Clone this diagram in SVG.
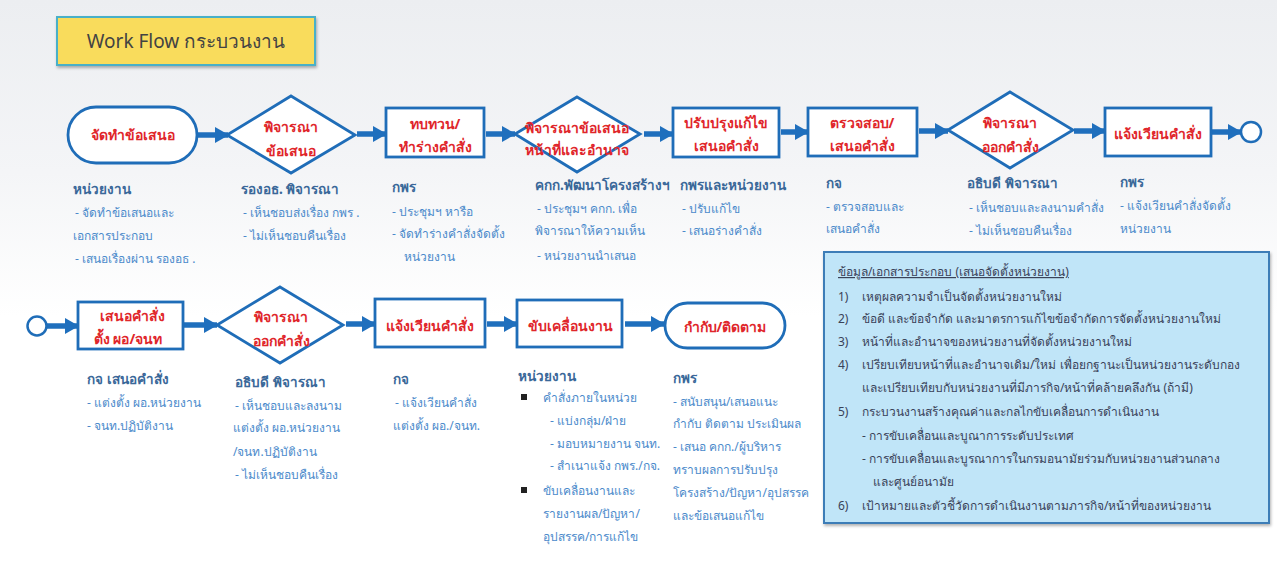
<svg xmlns="http://www.w3.org/2000/svg" width="1277" height="575" viewBox="0 0 1277 575">
<defs>
<linearGradient id="bg" x1="0" y1="0" x2="0" y2="1">
<stop offset="0" stop-color="#eceef1"/>
<stop offset="0.3" stop-color="#f4f5f7"/>
<stop offset="0.55" stop-color="#ffffff"/>
</linearGradient>
<filter id="sh" x="-10%" y="-10%" width="120%" height="130%">
<feDropShadow dx="1" dy="2" stdDeviation="1.5" flood-color="#000" flood-opacity="0.3"/>
</filter>
<marker id="ah" markerUnits="userSpaceOnUse" markerWidth="14" markerHeight="16" refX="13" refY="8" orient="auto">
<path d="M0,0 L14,8 L0,16 Z" fill="#1f6fbd"/>
</marker>
</defs>
<style>
.nd{fill:#fff;stroke:#1f6db8;stroke-width:2.8}
.nt{font-family:"Noto Sans","DejaVu Sans",sans-serif;font-size:14px;font-weight:bold;fill:#e0262b;text-anchor:middle}
.hd{font-family:"Noto Sans","DejaVu Sans",sans-serif;font-size:13.5px;font-weight:bold;fill:#3a6899}
.sb{font-family:"Noto Sans","DejaVu Sans",sans-serif;font-size:12px;fill:#4b8acb}
.ib{font-family:"Noto Sans","DejaVu Sans",sans-serif;font-size:12px;fill:#3a4258}
.cn line{stroke:#1f6fbd;stroke-width:5.5;marker-end:url(#ah)}
</style>
<rect x="0" y="0" width="1277" height="575" fill="url(#bg)"/>

<g id="title">
<rect x="57" y="17" width="258" height="48" fill="#f9dc5c" stroke="#4ab0c8" stroke-width="2" filter="url(#sh)"/>
<text x="186" y="48" text-anchor="middle" font-family="Noto Sans,DejaVu Sans,sans-serif" font-size="19" fill="#434343">Work Flow กระบวนงาน</text>
</g>

<g id="connectors" class="cn">
<line x1="198" y1="135" x2="228" y2="135"/>
<line x1="357" y1="134" x2="386" y2="134"/>
<line x1="486" y1="134" x2="515" y2="134"/>
<line x1="644" y1="134" x2="673" y2="134"/>
<line x1="781" y1="132" x2="808" y2="132"/>
<line x1="919" y1="131" x2="948" y2="131"/>
<line x1="1074" y1="131" x2="1105" y2="131"/>
<line x1="1212" y1="132" x2="1241" y2="132"/>
<line x1="47" y1="326" x2="78" y2="326"/>
<line x1="184" y1="325" x2="217" y2="325"/>
<line x1="346" y1="324" x2="375" y2="324"/>
<line x1="487" y1="324" x2="517" y2="324"/>
<line x1="625" y1="324" x2="664" y2="324"/>
</g>

<g id="n1"><rect class="nd" x="68" y="107" width="129" height="56" rx="28"/><text class="nt" x="133" y="140">จัดทำข้อเสนอ</text></g>
<g id="n2"><polygon class="nd" points="291,96 355,135 291,173 227,135"/><text class="nt" x="291" y="132">พิจารณา</text><text class="nt" x="291" y="156">ข้อเสนอ</text></g>
<g id="n3"><rect class="nd" x="386" y="108" width="98" height="49"/><text class="nt" x="435" y="129">ทบทวน/</text><text class="nt" x="435" y="152">ทำร่างคำสั่ง</text></g>
<g id="n4"><polygon class="nd" points="577,97 640,134 577,172 515,134"/><text class="nt" x="577" y="133">พิจารณาข้อเสนอ</text><text class="nt" x="577" y="155">หน้าที่และอำนาจ</text></g>
<g id="n5"><rect class="nd" x="673" y="108" width="106" height="49"/><text class="nt" x="726" y="128">ปรับปรุงแก้ไข</text><text class="nt" x="726" y="151">เสนอคำสั่ง</text></g>
<g id="n6"><rect class="nd" x="808" y="108" width="109" height="48"/><text class="nt" x="862" y="128">ตรวจสอบ/</text><text class="nt" x="862" y="151">เสนอคำสั่ง</text></g>
<g id="n7"><polygon class="nd" points="1010,92 1073,130 1010,168 948,130"/><text class="nt" x="1010" y="128">พิจารณา</text><text class="nt" x="1010" y="152">ออกคำสั่ง</text></g>
<g id="n8"><rect class="nd" x="1105" y="108" width="106" height="48"/><text class="nt" x="1158" y="139">แจ้งเวียนคำสั่ง</text></g>
<g id="end1"><circle cx="1251" cy="132" r="10" fill="#fff" stroke="#1f6db8" stroke-width="2.5"/></g>

<g id="start2"><circle cx="37" cy="326" r="9.5" fill="#fff" stroke="#1f6db8" stroke-width="2.5"/></g>
<g id="m1"><rect class="nd" x="78" y="302" width="105" height="47"/><text class="nt" x="132" y="321">เสนอคำสั่ง</text><text class="nt" x="128" y="344">ตั้ง ผอ/จนท</text></g>
<g id="m2"><polygon class="nd" points="280,287 343,325 280,363 217,325"/><text class="nt" x="281" y="322">พิจารณา</text><text class="nt" x="281" y="346">ออกคำสั่ง</text></g>
<g id="m3"><rect class="nd" x="375" y="299" width="110" height="48"/><text class="nt" x="430" y="331">แจ้งเวียนคำสั่ง</text></g>
<g id="m4"><rect class="nd" x="517" y="300" width="105" height="47"/><text class="nt" x="570" y="331">ขับเคลื่อนงาน</text></g>
<g id="m5"><rect class="nd" x="665" y="303" width="120" height="45" rx="22.5"/><text class="nt" x="725" y="332">กำกับ/ติดตาม</text></g>

<g id="l1"><text class="hd" x="73" y="194">หน่วยงาน</text><text class="sb" x="75" y="217">- จัดทำข้อเสนอและ</text><text class="sb" x="73" y="240">เอกสารประกอบ</text><text class="sb" x="75" y="263">- เสนอเรื่องผ่าน รองอธ .</text></g>
<g id="l2"><text class="hd" x="241" y="194">รองอธ. พิจารณา</text><text class="sb" x="243" y="217">- เห็นชอบส่งเรื่อง กพร .</text><text class="sb" x="243" y="240">- ไม่เห็นชอบคืนเรื่อง</text></g>
<g id="l3"><text class="hd" x="392" y="192">กพร</text><text class="sb" x="392" y="216">- ประชุมฯ หารือ</text><text class="sb" x="392" y="238">- จัดทำร่างคำสั่งจัดตั้ง</text><text class="sb" x="404" y="261">หน่วยงาน</text></g>
<g id="l4"><text class="hd" x="535" y="190">คกก.พัฒนาโครงสร้างฯ</text><text class="sb" x="537" y="213">- ประชุมฯ คกก. เพื่อ</text><text class="sb" x="535" y="235">พิจารณาให้ความเห็น</text><text class="sb" x="537" y="260">- หน่วยงานนำเสนอ</text></g>
<g id="l5"><text class="hd" x="680" y="190">กพรและหน่วยงาน</text><text class="sb" x="682" y="213">- ปรับแก้ไข</text><text class="sb" x="682" y="235">- เสนอร่างคำสั่ง</text></g>
<g id="l6"><text class="hd" x="826" y="188">กจ</text><text class="sb" x="826" y="211">- ตรวจสอบและ</text><text class="sb" x="826" y="233">เสนอคำสั่ง</text></g>
<g id="l7"><text class="hd" x="967" y="188">อธิบดี พิจารณา</text><text class="sb" x="969" y="212">- เห็นชอบและลงนามคำสั่ง</text><text class="sb" x="969" y="235">- ไม่เห็นชอบคืนเรื่อง</text></g>
<g id="l8"><text class="hd" x="1120" y="187">กพร</text><text class="sb" x="1120" y="210">- แจ้งเวียนคำสั่งจัดตั้ง</text><text class="sb" x="1120" y="233">หน่วยงาน</text></g>

<g id="b1"><text class="hd" x="87" y="384">กจ เสนอคำสั่ง</text><text class="sb" x="87" y="407">- แต่งตั้ง ผอ.หน่วยงาน</text><text class="sb" x="87" y="430">- จนท.ปฏิบัติงาน</text></g>
<g id="b2"><text class="hd" x="235" y="387">อธิบดี พิจารณา</text><text class="sb" x="235" y="410">- เห็นชอบและลงนาม</text><text class="sb" x="233" y="432">แต่งตั้ง ผอ.หน่วยงาน</text><text class="sb" x="233" y="456">/จนท.ปฏิบัติงาน</text><text class="sb" x="235" y="479">- ไม่เห็นชอบคืนเรื่อง</text></g>
<g id="b3"><text class="hd" x="393" y="384">กจ</text><text class="sb" x="395" y="407">- แจ้งเวียนคำสั่ง</text><text class="sb" x="393" y="430">แต่งตั้ง ผอ./จนท.</text></g>
<g id="b4"><text class="hd" x="518" y="381">หน่วยงาน</text>
<rect x="521" y="394" width="6" height="6" fill="#222"/><text class="sb" x="543" y="402">คำสั่งภายในหน่วย</text>
<text class="sb" x="550" y="425">- แบ่งกลุ่ม/ฝ่าย</text><text class="sb" x="550" y="448">- มอบหมายงาน จนท.</text><text class="sb" x="550" y="470">- สำเนาแจ้ง กพร./กจ.</text>
<rect x="521" y="487" width="6" height="6" fill="#222"/><text class="sb" x="543" y="495">ขับเคลื่อนงานและ</text><text class="sb" x="543" y="518">รายงานผล/ปัญหา/</text><text class="sb" x="543" y="541">อุปสรรค/การแก้ไข</text></g>
<g id="b5"><text class="hd" x="673" y="383">กพร</text><text class="sb" x="673" y="406">- สนับสนุน/เสนอแนะ</text><text class="sb" x="673" y="428">กำกับ ติดตาม ประเมินผล</text><text class="sb" x="673" y="451">- เสนอ คกก./ผู้บริหาร</text><text class="sb" x="673" y="474">ทราบผลการปรับปรุง</text><text class="sb" x="673" y="497">โครงสร้าง/ปัญหา/อุปสรรค</text><text class="sb" x="673" y="520">และข้อเสนอแก้ไข</text></g>

<g id="info">
<rect x="824" y="252" width="445" height="271" fill="#c0e5f8" stroke="#3d7db7" stroke-width="2" filter="url(#sh)"/>
<text class="ib" x="838" y="276" text-decoration="underline">ข้อมูล/เอกสารประกอบ (เสนอจัดตั้งหน่วยงาน)</text>
<text class="ib" x="838" y="301">1)</text><text class="ib" x="862" y="301">เหตุผลความจำเป็นจัดตั้งหน่วยงานใหม่</text>
<text class="ib" x="838" y="323">2)</text><text class="ib" x="862" y="323">ข้อดี และข้อจำกัด และมาตรการแก้ไขข้อจำกัดการจัดตั้งหน่วยงานใหม่</text>
<text class="ib" x="838" y="346">3)</text><text class="ib" x="862" y="346">หน้าที่และอำนาจของหน่วยงานที่จัดตั้งหน่วยงานใหม่</text>
<text class="ib" x="838" y="369">4)</text><text class="ib" x="862" y="369">เปรียบเทียบหน้าที่และอำนาจเดิม/ใหม่ เพื่อยกฐานะเป็นหน่วยงานระดับกอง</text>
<text class="ib" x="862" y="392">และเปรียบเทียบกับหน่วยงานที่มีภารกิจ/หน้าที่คล้ายคลึงกัน (ถ้ามี)</text>
<text class="ib" x="838" y="416">5)</text><text class="ib" x="862" y="416">กระบวนงานสร้างคุณค่าและกลไกขับเคลื่อนการดำเนินงาน</text>
<text class="ib" x="862" y="440">- การขับเคลื่อนและบูณาการระดับประเทศ</text>
<text class="ib" x="862" y="463">- การขับเคลื่อนและบูรณาการในกรมอนามัยร่วมกับหน่วยงานส่วนกลาง</text>
<text class="ib" x="873" y="486">และศูนย์อนามัย</text>
<text class="ib" x="838" y="510">6)</text><text class="ib" x="862" y="510">เป้าหมายและตัวชี้วัดการดำเนินงานตามภารกิจ/หน้าที่ของหน่วยงาน</text>
</g>
</svg>
